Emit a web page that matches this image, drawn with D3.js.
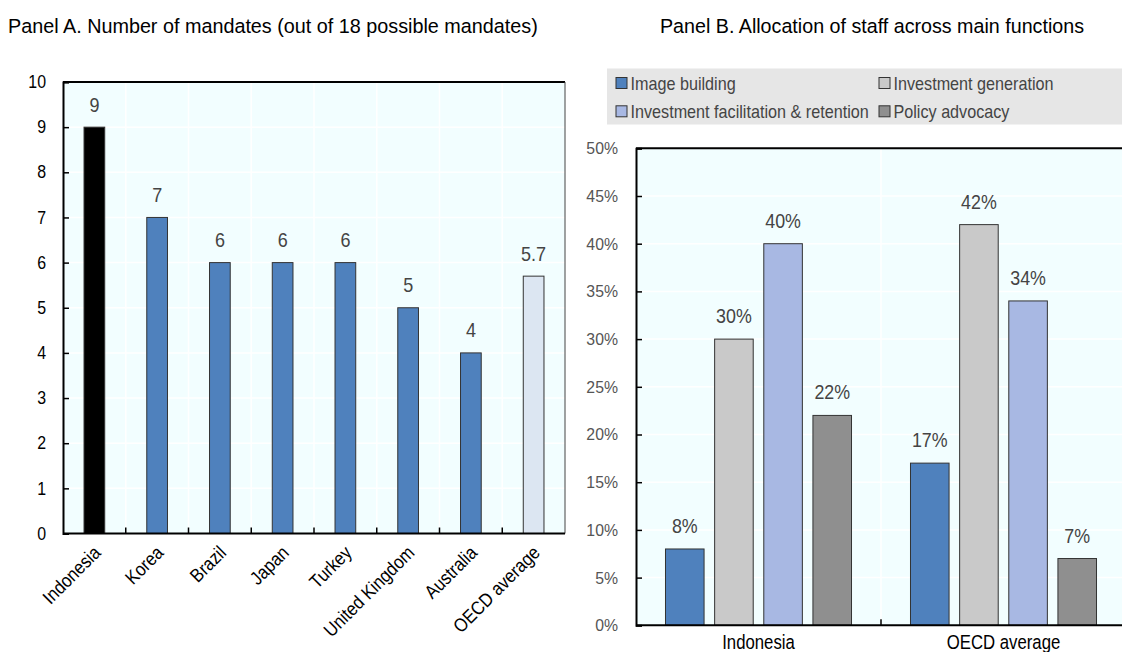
<!DOCTYPE html>
<html>
<head>
<meta charset="utf-8">
<title></title>
<script src="https://cdn.jsdelivr.net/npm/d3@7"></script>
<style>
  body { margin: 0; background: #fff; }
  text { font-family: "Liberation Sans", Arial, sans-serif; }
</style>
</head>
<body>
<script>
// Panel A data
var countries = ["Indonesia", "Korea", "Brazil", "Japan", "Turkey", "United Kingdom", "Australia", "OECD average"];
var mandates = [9, 7, 6, 6, 6, 5, 4, 5.7];
var mandateTicks = [0, 1, 2, 3, 4, 5, 6, 7, 8, 9, 10];

// Panel B data
var groups = ["Indonesia", "OECD average"];
var functions = ["Image building", "Investment generation", "Investment facilitation & retention", "Policy advocacy"];
var imageBuilding = [8, 17];
var investGeneration = [30, 42];
var investFacilitation = [40, 34];
var policyAdvocacy = [22, 7];
var staffTicks = [0, 5, 10, 15, 20, 25, 30, 35, 40, 45, 50];

var bg = "#F2FEFF";
var blue = "#4F81BD";
var fnColors = [blue, "#C9C9C9", "#A8B8E3", "#8F8F8F"];

var svg = d3.select("body").append("svg")
    .attr("width", 1122)
    .attr("height", 652);

// text squeezed horizontally, to look like a narrow font
function label(parent, x, y, str, size, sx, fill, anchor) {
    return parent.append("text")
        .attr("transform", "translate(" + x + "," + y + ") scale(" + sx + ",1)")
        .attr("font-size", size).attr("fill", fill)
        .attr("text-anchor", anchor || "start")
        .text(str);
}

function styleAxis(g, pad, size, sx, fill) {
    g.select(".domain").attr("stroke", "#000").attr("stroke-width", 2);
    g.selectAll(".tick line").attr("stroke", "#000").attr("stroke-width", 1.5);
    g.selectAll(".tick text")
        .attr("font-size", size).attr("fill", fill)
        .attr("font-family", "Liberation Sans, Arial, sans-serif")
        .attr("x", -pad / sx)
        .attr("transform", "scale(" + sx + ",1)");
}

// ---------- Panel A ----------
var a = { left: 63, right: 565, top: 82, bottom: 533.5 };

label(svg, 8, 33, "Panel A. Number of mandates (out of 18 possible mandates)", 19.5, 1.015, "#000");

var xA = d3.scaleBand().domain(countries).range([a.left, a.right]);
var yA = d3.scaleLinear().domain([0, 10]).range([a.bottom, a.top]);

var gA = svg.append("g");
gA.append("rect")
    .attr("x", a.left).attr("y", a.top)
    .attr("width", a.right - a.left).attr("height", a.bottom - a.top)
    .attr("fill", bg);

// gridlines
gA.selectAll(".hgrid").data(mandateTicks.slice(1, -1)).enter().append("line")
    .attr("x1", a.left).attr("x2", a.right)
    .attr("y1", function(d) { return yA(d); }).attr("y2", function(d) { return yA(d); })
    .attr("stroke", "#fff").attr("stroke-width", 1.5);
gA.selectAll(".vgrid").data(countries.slice(1)).enter().append("line")
    .attr("x1", function(d) { return xA(d); }).attr("x2", function(d) { return xA(d); })
    .attr("y1", a.top).attr("y2", a.bottom)
    .attr("stroke", "#fff").attr("stroke-width", 1.5);

var bwA = xA.bandwidth() * 0.33;
gA.selectAll(".bar").data(countries).enter().append("rect")
    .attr("x", function(d) { return xA(d) + xA.bandwidth() / 2 - bwA / 2; })
    .attr("y", function(d, i) { return yA(mandates[i]); })
    .attr("width", bwA)
    .attr("height", function(d, i) { return a.bottom - yA(mandates[i]); })
    .attr("fill", function(d, i) { return i === 0 ? "#000" : (d === "OECD average" ? "#DCE6F2" : blue); })
    .attr("stroke", "#333").attr("stroke-width", 1);

countries.forEach(function(c, i) {
    label(gA, xA(c) + xA.bandwidth() / 2, yA(mandates[i]) - 15.5, mandates[i], 20, 0.9, "#444", "middle");
});

// frame
gA.append("line").attr("x1", a.left).attr("x2", a.right).attr("y1", a.top).attr("y2", a.top)
    .attr("stroke", "#000").attr("stroke-width", 2);
gA.append("line").attr("x1", a.right).attr("x2", a.right).attr("y1", a.top).attr("y2", a.bottom)
    .attr("stroke", "#444").attr("stroke-width", 1);

var yAxisA = d3.axisLeft(yA).tickValues(mandateTicks).tickSize(-6).tickPadding(17);
gA.append("g").attr("transform", "translate(" + a.left + ",0)").call(yAxisA)
    .call(styleAxis, 17, 17.7, 0.9, "#000");

gA.append("line").attr("x1", a.left).attr("x2", a.right).attr("y1", a.bottom).attr("y2", a.bottom)
    .attr("stroke", "#000").attr("stroke-width", 2);
gA.selectAll(".xtick").data(countries.slice(1)).enter().append("line")
    .attr("x1", function(d) { return xA(d); }).attr("x2", function(d) { return xA(d); })
    .attr("y1", a.bottom).attr("y2", a.bottom - 6)
    .attr("stroke", "#000").attr("stroke-width", 1.5);

gA.selectAll(".xlab").data(countries).enter().append("text")
    .attr("transform", function(d) {
        return "translate(" + (xA(d) + xA.bandwidth() / 2 - 2) + "," + (a.bottom + 11) + ") rotate(-45) scale(0.88,1)";
    })
    .attr("text-anchor", "end").attr("dy", "0.7em")
    .attr("font-size", 19).attr("fill", "#000")
    .text(function(d) { return d; });

// ---------- Panel B ----------
var b = { left: 636, right: 1126, top: 148.3, bottom: 625.3 };

label(svg, 660, 33, "Panel B. Allocation of staff across main functions", 19.5, 1.01, "#000");

// legend
var leg = svg.append("g");
leg.append("rect").attr("x", 607).attr("y", 68.5).attr("width", 515).attr("height", 56).attr("fill", "#E6E6E6");
var legPos = [[616, 77.5], [879, 77.5], [616, 105.8], [879, 105.8]];
functions.forEach(function(f, i) {
    leg.append("rect")
        .attr("x", legPos[i][0]).attr("y", legPos[i][1])
        .attr("width", 11).attr("height", 11)
        .attr("fill", fnColors[i]).attr("stroke", "#333").attr("stroke-width", 1);
    label(leg, legPos[i][0] + 14.5, legPos[i][1] + 12, f, 18.6, 0.87, "#444");
});

var series = [imageBuilding, investGeneration, investFacilitation, policyAdvocacy];
var xB = d3.scaleBand().domain(groups).range([b.left, b.right]);
var xInner = d3.scaleBand().domain(functions).range([0, xB.bandwidth()]).paddingInner(0.215).paddingOuter(0.6);
var yB = d3.scaleLinear().domain([0, 50]).range([b.bottom, b.top]);

var gB = svg.append("g");
gB.append("rect")
    .attr("x", b.left).attr("y", b.top)
    .attr("width", b.right - b.left).attr("height", b.bottom - b.top)
    .attr("fill", bg);
gB.selectAll(".hgrid").data(staffTicks.slice(1, -1)).enter().append("line")
    .attr("x1", b.left).attr("x2", b.right)
    .attr("y1", function(d) { return yB(d); }).attr("y2", function(d) { return yB(d); })
    .attr("stroke", "#fff").attr("stroke-width", 1.5);
gB.append("line")
    .attr("x1", xB(groups[1])).attr("x2", xB(groups[1]))
    .attr("y1", b.top).attr("y2", b.bottom)
    .attr("stroke", "#fff").attr("stroke-width", 1.5);

var cells = [];
groups.forEach(function(g, gi) {
    functions.forEach(function(f, fi) {
        cells.push({ group: g, fn: f, fi: fi, value: series[fi][gi] });
    });
});

gB.selectAll(".bar").data(cells).enter().append("rect")
    .attr("x", function(d) { return xB(d.group) + xInner(d.fn); })
    .attr("y", function(d) { return yB(d.value); })
    .attr("width", xInner.bandwidth())
    .attr("height", function(d) { return b.bottom - yB(d.value); })
    .attr("fill", function(d) { return fnColors[d.fi]; })
    .attr("stroke", "#333").attr("stroke-width", 1);

cells.forEach(function(d) {
    label(gB, xB(d.group) + xInner(d.fn) + xInner.bandwidth() / 2, yB(d.value) - 16,
        d.value + "%", 21, 0.85, "#444", "middle");
});

gB.append("line").attr("x1", b.left).attr("x2", b.right).attr("y1", b.top).attr("y2", b.top)
    .attr("stroke", "#000").attr("stroke-width", 2);

var yAxisB = d3.axisLeft(yB).tickValues(staffTicks).tickSize(-6).tickPadding(18)
    .tickFormat(function(d) { return d + "%"; });
gB.append("g").attr("transform", "translate(" + b.left + ",0)").call(yAxisB)
    .call(styleAxis, 18, 17, 0.93, "#555");

gB.append("line").attr("x1", b.left).attr("x2", b.right).attr("y1", b.bottom).attr("y2", b.bottom)
    .attr("stroke", "#000").attr("stroke-width", 2);
gB.append("line")
    .attr("x1", xB(groups[1])).attr("x2", xB(groups[1]))
    .attr("y1", b.bottom).attr("y2", b.bottom - 6)
    .attr("stroke", "#000").attr("stroke-width", 1.5);

groups.forEach(function(g) {
    label(gB, xB(g) + xB.bandwidth() / 2, 649, g, 19.5, 0.86, "#000", "middle");
});
</script>
</body>
</html>
